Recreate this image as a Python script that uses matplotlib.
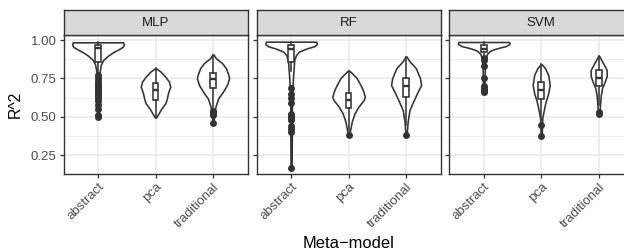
import matplotlib
matplotlib.use("Agg")
import matplotlib.pyplot as plt

plt.rcParams["font.family"] = ["Liberation Sans", "DejaVu Sans"]

MODELS = ["MLP", "RF", "SVM"]
METHODS = ["abstract", "pca", "traditional"]
Y_TICKS = [0.25, 0.50, 0.75, 1.00]
Y_TICK_LABELS = ["0.25", "0.50", "0.75", "1.00"]

# violin outlines: R^2 levels and relative density (1 = widest violin)
MLP_VIOLIN_Y = [
    [0.50, 0.60, 0.70, 0.77, 0.80, 0.84, 0.87, 0.90, 0.92, 0.94, 0.955, 0.97, 0.985],
    [0.495, 0.523, 0.555, 0.588, 0.620, 0.653, 0.696, 0.729, 0.761, 0.794, 0.816],
    [0.46, 0.53, 0.57, 0.62, 0.66, 0.707, 0.75, 0.77, 0.816, 0.85, 0.88, 0.905],
]
MLP_VIOLIN_D = [
    [0.02, 0.03, 0.045, 0.06, 0.07, 0.11, 0.20, 0.40, 0.58, 0.80, 0.95, 1.00, 0.97],
    [0.02, 0.12, 0.23, 0.38, 0.44, 0.48, 0.57, 0.52, 0.38, 0.20, 0.02],
    [0.02, 0.05, 0.10, 0.20, 0.37, 0.54, 0.62, 0.60, 0.50, 0.35, 0.12, 0.02],
]
RF_VIOLIN_Y = [
    [0.17, 0.40, 0.60, 0.75, 0.816, 0.87, 0.902, 0.924, 0.945, 0.96, 0.975, 0.989],
    [0.381, 0.414, 0.468, 0.523, 0.566, 0.609, 0.631, 0.675, 0.707, 0.753, 0.786, 0.801],
    [0.381, 0.468, 0.544, 0.598, 0.653, 0.707, 0.75, 0.816, 0.864, 0.892],
]
RF_VIOLIN_D = [
    [0.02, 0.03, 0.03, 0.07, 0.10, 0.12, 0.19, 0.30, 0.60, 0.90, 1.00, 0.97],
    [0.02, 0.06, 0.12, 0.23, 0.38, 0.58, 0.63, 0.55, 0.46, 0.31, 0.12, 0.02],
    [0.02, 0.06, 0.13, 0.27, 0.42, 0.58, 0.54, 0.38, 0.12, 0.02],
]
SVM_VIOLIN_Y = [
    [0.66, 0.80, 0.88, 0.91, 0.93, 0.94, 0.95, 0.96, 0.975, 0.987],
    [0.377, 0.49, 0.544, 0.598, 0.653, 0.707, 0.773, 0.816, 0.842],
    [0.518, 0.577, 0.64, 0.688, 0.727, 0.766, 0.805, 0.837, 0.87, 0.896],
]
SVM_VIOLIN_D = [
    [0.02, 0.04, 0.07, 0.13, 0.25, 0.40, 0.60, 0.85, 1.00, 0.98],
    [0.02, 0.04, 0.10, 0.17, 0.27, 0.33, 0.27, 0.15, 0.02],
    [0.02, 0.05, 0.08, 0.13, 0.23, 0.31, 0.31, 0.21, 0.10, 0.02],
]

# boxplot statistics per method
MLP_Q1 = [0.86, 0.61, 0.69]
MLP_MED = [0.946, 0.672, 0.745]
MLP_Q3 = [0.97, 0.72, 0.787]
MLP_LO = [0.79, 0.50, 0.55]
MLP_HI = [0.985, 0.816, 0.905]
MLP_OUT = [
    [0.50, 0.51, 0.55, 0.58, 0.60, 0.62, 0.63, 0.64, 0.65, 0.66, 0.67, 0.68,
     0.69, 0.70, 0.71, 0.72, 0.73, 0.75, 0.77],
    [],
    [0.46, 0.51, 0.52, 0.53, 0.54],
]
RF_Q1 = [0.855, 0.555, 0.631]
RF_MED = [0.94, 0.612, 0.703]
RF_Q3 = [0.967, 0.655, 0.756]
RF_LO = [0.80, 0.41, 0.45]
RF_HI = [0.989, 0.801, 0.892]
RF_OUT = [
    [0.17, 0.40, 0.42, 0.44, 0.48, 0.49, 0.50, 0.51, 0.52, 0.59, 0.62, 0.65, 0.69],
    [0.38],
    [0.38],
]
SVM_Q1 = [0.924, 0.618, 0.70]
SVM_MED = [0.944, 0.674, 0.75]
SVM_Q3 = [0.967, 0.729, 0.805]
SVM_LO = [0.90, 0.48, 0.58]
SVM_HI = [0.987, 0.842, 0.896]
SVM_OUT = [
    [0.66, 0.67, 0.68, 0.69, 0.70, 0.755, 0.83, 0.87, 0.88],
    [0.377, 0.446],
    [0.518, 0.53],
]

panels = {
    "MLP": (MLP_VIOLIN_Y, MLP_VIOLIN_D, MLP_Q1, MLP_MED, MLP_Q3, MLP_LO, MLP_HI, MLP_OUT),
    "RF": (RF_VIOLIN_Y, RF_VIOLIN_D, RF_Q1, RF_MED, RF_Q3, RF_LO, RF_HI, RF_OUT),
    "SVM": (SVM_VIOLIN_Y, SVM_VIOLIN_D, SVM_Q1, SVM_MED, SVM_Q3, SVM_LO, SVM_HI, SVM_OUT),
}

W, H = 624, 250
INK = "#333333"
GRID = "#EBEBEB"
LW = 1.15

fig = plt.figure(figsize=(W / 100, H / 100), dpi=100)

panel_left = [63.5, 256.6, 449.2]
panel_w, panel_top, panel_bot = 184.0, 35.0, 174.0
strip_top = 10.0

for i, model in enumerate(MODELS):
    vy, vd, q1, med, q3, lo, hi, out = panels[model]
    x0 = panel_left[i] / W
    ax = fig.add_axes([x0, 1 - panel_bot / H, panel_w / W, (panel_bot - panel_top) / H])
    pos = list(range(len(METHODS)))

    for p, ys, ds in zip(pos, vy, vd):
        half = [0.45 * d for d in ds]
        ax.fill_betweenx(ys, [p - h for h in half], [p + h for h in half],
                         facecolor="white", edgecolor=INK, lw=LW, zorder=3)

    stats = []
    for k in range(len(METHODS)):
        stats.append(dict(q1=q1[k], med=med[k], q3=q3[k], whislo=lo[k],
                          whishi=hi[k], fliers=out[k]))
    ax.bxp(stats, positions=pos, widths=0.1, patch_artist=True, showcaps=False,
           boxprops=dict(facecolor="white", edgecolor=INK, lw=LW),
           whiskerprops=dict(color=INK, lw=LW),
           medianprops=dict(color=INK, lw=1.7),
           flierprops=dict(marker="o", markerfacecolor=INK, markeredgecolor="none",
                           markersize=5.0),
           zorder=4)

    ax.set_xlim(-0.6, 2.6)
    ax.set_ylim(0.128, 1.0326)
    ax.set_xticks(pos)
    ax.set_xticklabels(METHODS, rotation=45, ha="right", va="top",
                       rotation_mode="anchor", fontsize=9.5, color="#4D4D4D")
    ax.set_yticks(Y_TICKS)
    ax.set_yticks([0.375, 0.625, 0.875], minor=True)
    if i == 0:
        ax.set_yticklabels(Y_TICK_LABELS, fontsize=9.5, color="#4D4D4D")
    else:
        ax.set_yticklabels([])
    ax.tick_params(axis="both", which="major", length=3, width=0.9, color=INK, pad=2)
    ax.tick_params(axis="y", which="minor", length=0)
    ax.grid(True, which="major", color=GRID, lw=1.2, zorder=0)
    ax.grid(True, which="minor", axis="y", color=GRID, lw=0.6, zorder=0)
    ax.set_axisbelow(True)
    for s in ax.spines.values():
        s.set_color(INK)
        s.set_linewidth(1.0)

    sax = fig.add_axes([x0, 1 - panel_top / H, panel_w / W, (panel_top - strip_top) / H])
    sax.set_facecolor("#D9D9D9")
    sax.set_xticks([])
    sax.set_yticks([])
    for s in sax.spines.values():
        s.set_color(INK)
        s.set_linewidth(1.0)
    sax.text(0.5, 0.5, model, ha="center", va="center", fontsize=9.5,
             color="#1A1A1A", transform=sax.transAxes)

fig.text(15.5 / W, 1 - 104.5 / H, "R^2", rotation=90, ha="center", va="center",
         fontsize=11.3)
fig.text(348.5 / W, 1 - 244 / H, "Meta\u2212model", ha="center", va="center",
         fontsize=11.9)

fig.savefig("out.png", dpi=100)
